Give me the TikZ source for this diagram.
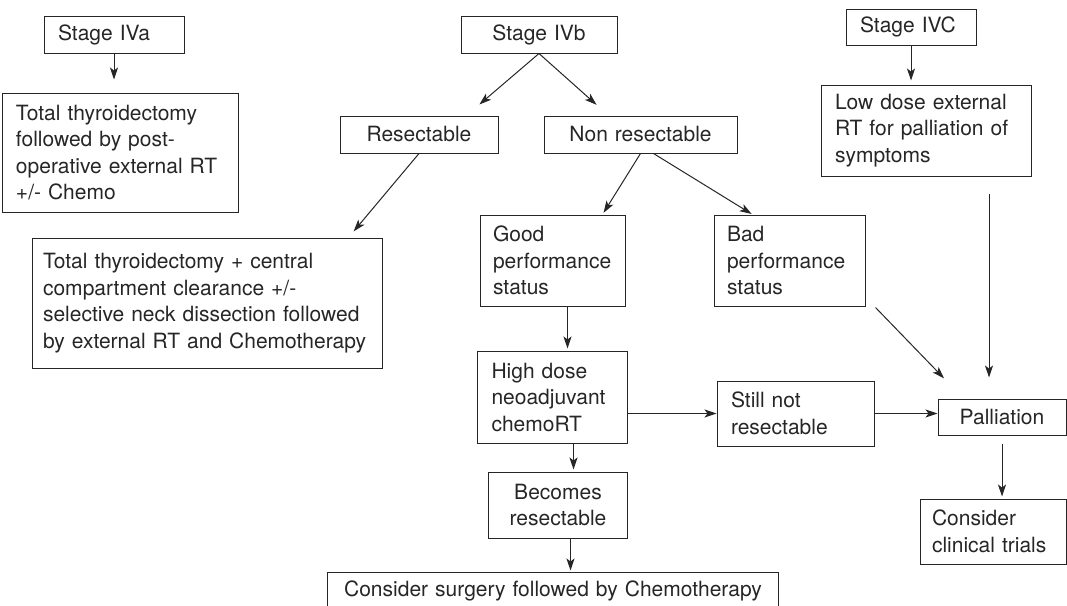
\documentclass[tikz,border=0pt]{standalone}
\usepackage{fontspec}
\setmainfont{TeX Gyre Heros}
\usepackage{tikz}
\usetikzlibrary{arrows.meta,positioning}
\definecolor{inkgray}{HTML}{262626}

\begin{document}
\begin{tikzpicture}[x=1pt,y=-1pt,>={Stealth[length=12pt,width=8pt,inset=3pt]},on grid,
    color=inkgray,line width=1pt,
    blk/.style={draw,inner xsep=14pt,inner ysep=0pt,align=left,
      font=\fontsize{21}{26.5}\selectfont},
    cblk/.style={blk,align=center}]
  \clip (0,0) rectangle (1067,605);
  % stages
  \node[cblk,text width=128pt,minimum height=37pt] (ivb) at (539,34.5) {Stage IVb};
  \node[blk,text width=112pt,minimum height=37pt] (iva) [left=425pt of ivb] {Stage IVa};
  \node[blk,text width=102pt,minimum height=36pt] (ivc) [above right=7.5pt and 372pt of ivb] {Stage IVC};
  % second row
  \node[blk,text width=208pt,minimum height=119pt] (total) [below right=118pt and 6pt of iva]
    {Total thyroidectomy\\followed by post-\\operative external RT\\+/- Chemo};
  \node[cblk,text width=130pt,minimum height=37pt] (resect) [below left=100pt and 120pt of ivb] {Resectable};
  \node[cblk,text width=165pt,minimum height=37pt] (nonres) [below right=100pt and 101.5pt of ivb] {Non resectable};
  \node[blk,text width=182pt,minimum height=91pt] (lowdose) [below right=103.5pt and 15pt of ivc]
    {Low dose external\\RT for palliation of\\symptoms};
  % resectable branch
  \node[blk,inner xsep=11pt,text width=328pt,minimum height=130pt] (surgery) [below left=168.5pt and 212pt of resect]
    {Total thyroidectomy + central\\compartment clearance +/-\\selective neck dissection followed\\by external RT and Chemotherapy};
  % non resectable branch
  \node[blk,inner xsep=13pt,text width=119pt,minimum height=91pt] (good) [below left=126pt and 88pt of nonres]
    {Good\\performance\\status};
  \node[blk,inner xsep=13pt,text width=125pt,minimum height=91pt] (bad) [below right=126pt and 149pt of nonres]
    {Bad\\performance\\status};
  \node[blk,text width=122pt,minimum height=92pt] (high) [below=136.5pt of good]
    {High dose\\neoadjuvant\\chemoRT};
  \node[blk,text width=129pt,minimum height=65pt] (still) [below right=16.5pt and 243pt of high]
    {Still not\\resectable};
  \node[cblk,text width=100pt,minimum height=36pt] (pall) [below right=3.5pt and 206.5pt of still] {Palliation};
  \node[blk,inner xsep=12pt,text width=122pt,minimum height=65pt] (trials) [below left=114.5pt and 9pt of pall]
    {Consider\\clinical trials};
  \node[cblk,text width=111pt,minimum height=66pt] (becomes) [below right=108pt and 5.5pt of high]
    {Becomes\\resectable};
  \node[cblk,text width=423pt,minimum height=38pt] (csurg) [below left=86pt and 5pt of becomes]
    {Consider surgery followed by Chemotherapy};
  % arrows
  \draw[->,shorten >=13pt] (iva.south) -- (iva.south |- total.north);
  \draw[->,shorten >=17pt] (ivb.south) -- ([xshift=-32pt]resect.north east);
  \draw[->,shorten >=16pt] (ivb.south) -- ([xshift=65pt]nonres.north west);
  \draw[->,shorten >=4pt] (ivc.south) -- (ivc.south |- lowdose.north);
  \draw[->,shorten >=8pt] (resect.south) -- ([xshift=-34pt]surgery.north east);
  \draw[->,shorten >=2pt] (nonres.south) -- ([xshift=-23pt]good.north east);
  \draw[->,shorten >=1pt] ([xshift=13pt]nonres.south) -- ([xshift=39pt]bad.north west);
  \draw[->,shorten >=2pt] ([xshift=15pt]good.south) -- ([xshift=15pt]good.south |- high.north);
  \draw[->] (high.east |- still.west) -- (still.west);
  \draw[->] (still.east) -- (still.east -| pall.west);
  \draw[->,shorten >=28pt] ([xshift=10pt,yshift=-1pt]bad.south east) -- ([xshift=26pt]pall.north west);
  \draw[->,shorten <=17pt,shorten >=21pt] ([xshift=63pt]lowdose.south) -- ([xshift=63pt]lowdose.south |- pall.north);
  \draw[->,shorten <=8pt,shorten >=2pt] (pall.south) -- (pall.south |- trials.north);
  \draw[->,shorten >=2pt] ([xshift=21pt]high.south) -- ([xshift=21pt]high.south |- becomes.north);
  \draw[->,shorten >=1pt] ([xshift=12.5pt]becomes.south) -- ([xshift=12.5pt]becomes.south |- csurg.north);
\end{tikzpicture}
\end{document}
